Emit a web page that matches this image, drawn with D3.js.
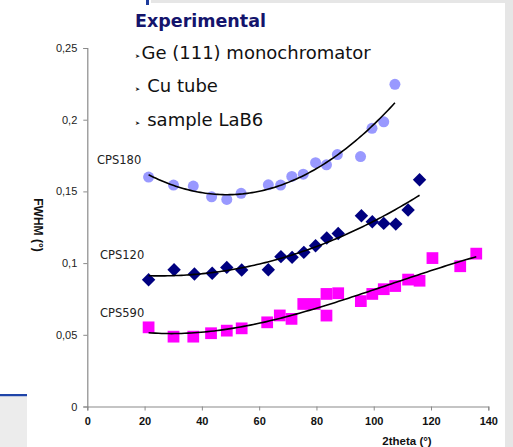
<!DOCTYPE html>
<html><head><meta charset="utf-8">
<script src="https://cdn.jsdelivr.net/npm/d3@7/dist/d3.min.js"></script>
<style>body{margin:0;background:#fff}svg{display:block}</style></head>
<body><svg id="c" width="513" height="447"></svg>
<script>
// ---- data ----
const xTicks = [0, 20, 40, 60, 80, 100, 120, 140];
const yTicks = [0, 0.05, 0.1, 0.15, 0.2, 0.25];
const yTickLabels = ["0", "0,05", "0,1", "0,15", "0,2", "0,25"];

const theta180 = [21.4, 30.1, 37.0, 43.4, 48.7, 53.7, 63.2, 67.5, 71.4, 75.4, 79.7, 83.5, 87.3, 95.4, 99.4, 103.5, 107.4];
const fwhm180  = [0.160, 0.1544, 0.1537, 0.1462, 0.1444, 0.1487, 0.1546, 0.1544, 0.1604, 0.162, 0.170, 0.1685, 0.1757, 0.1743, 0.194, 0.1985, 0.2247];

const theta120 = [21.4, 30.3, 37.4, 43.6, 48.7, 53.9, 63.2, 67.6, 71.5, 75.6, 79.7, 83.6, 87.6, 95.7, 99.5, 103.5, 107.7, 112.0, 116.0];
const fwhm120  = [0.0884, 0.0954, 0.0924, 0.0929, 0.0970, 0.0952, 0.0954, 0.1045, 0.1040, 0.1075, 0.1121, 0.1175, 0.1207, 0.1330, 0.1288, 0.1277, 0.1272, 0.1370, 0.1581];

const theta590 = [21.4, 30.1, 37.0, 43.2, 48.7, 53.9, 62.8, 67.2, 71.3, 75.4, 79.4, 83.5, 83.5, 87.6, 95.5, 99.5, 103.5, 107.5, 112.0, 116.0, 120.5, 130.2, 135.8];
const fwhm590  = [0.0552, 0.0487, 0.0487, 0.0511, 0.0529, 0.0545, 0.0587, 0.0635, 0.0611, 0.0715, 0.0715, 0.0634, 0.0785, 0.0790, 0.0735, 0.0785, 0.0818, 0.0840, 0.0885, 0.0877, 0.1035, 0.0978, 0.1066];

const seriesNames = ["CPS180", "CPS120", "CPS590"];
const fitOrders = [2, 2, 3];
const bulletLines = ["Ge (111) monochromator", " Cu tube", " sample LaB6"];
const titleText = "Experimental";

// ---- helpers ----
function polyfit(xs, ys, deg) {
  const n = deg + 1, s = 100;
  const A = Array.from({length: n}, () => new Array(n + 1).fill(0));
  xs.forEach((xv, k) => {
    const t = xv / s;
    for (let i = 0; i < n; i++) {
      for (let j = 0; j < n; j++) A[i][j] += Math.pow(t, i + j);
      A[i][n] += ys[k] * Math.pow(t, i);
    }
  });
  for (let i = 0; i < n; i++) {
    let p = i;
    for (let r = i + 1; r < n; r++) if (Math.abs(A[r][i]) > Math.abs(A[p][i])) p = r;
    [A[i], A[p]] = [A[p], A[i]];
    for (let r = 0; r < n; r++) {
      if (r === i) continue;
      const f = A[r][i] / A[i][i];
      for (let c = i; c <= n; c++) A[r][c] -= f * A[i][c];
    }
  }
  const coef = A.map((row, i) => row[n] / row[i]);
  return xv => coef.reduce((acc, c, i) => acc + c * Math.pow(xv / s, i), 0);
}

const svg = d3.select("#c");
svg.append("rect").attr("width", 513).attr("height", 447).attr("fill", "#fff");
// frame decorations
svg.append("rect").attr("x", 151).attr("y", 0).attr("width", 362).attr("height", 3).attr("fill", "#e6e6e6");
svg.append("rect").attr("x", 146).attr("y", 0).attr("width", 3).attr("height", 5).attr("fill", "#1e3c9c");
svg.append("rect").attr("x", 505).attr("y", 0).attr("width", 8).attr("height", 447).attr("fill", "#e6e6e6");
svg.append("rect").attr("x", 0).attr("y", 394).attr("width", 27).attr("height", 2.5).attr("fill", "#1e44a8");
svg.append("rect").attr("x", 0).attr("y", 396.5).attr("width", 27).attr("height", 51).attr("fill", "#ececec");

const x = d3.scaleLinear().domain([0, 140]).range([87.3, 488.3]);
const y = d3.scaleLinear().domain([0, 0.25]).range([406.5, 48]);

// axes
const axisColor = "#8a8a8a";
const gy = svg.append("g").attr("transform", `translate(${x(0)},0)`)
  .call(d3.axisLeft(y).tickValues(yTicks).tickSize(4).tickPadding(6)
    .tickFormat((d, i) => yTickLabels[i]));
const gx = svg.append("g").attr("transform", `translate(0,${y(0)})`)
  .call(d3.axisBottom(x).tickValues(xTicks).tickSize(4).tickPadding(7));
[gx, gy].forEach(g => {
  g.select(".domain").attr("stroke", axisColor).attr("stroke-width", 1.2);
  g.selectAll(".tick line").attr("stroke", axisColor);
  g.selectAll("text").attr("font-family", "'Liberation Sans', Arial, sans-serif").attr("fill", "#222");
});
gy.selectAll("text").attr("font-size", 11);
gx.selectAll("text").attr("font-size", 11).attr("font-weight", "bold").attr("fill", "#111");

svg.append("text").attr("x", 407).attr("y", 445).attr("text-anchor", "middle")
  .attr("font-family", "'Liberation Sans', Arial, sans-serif").attr("font-size", 11.5)
  .attr("font-weight", "bold").attr("fill", "#111").text("2theta (°)");
svg.append("text").attr("transform", "translate(34,225) rotate(90)").attr("text-anchor", "middle")
  .attr("font-family", "'Liberation Sans', Arial, sans-serif").attr("font-size", 12)
  .attr("font-weight", "bold").attr("fill", "#111").text("FWHM (°)");

// title + bullet lines
svg.append("text").attr("x", 135).attr("y", 26.5)
  .attr("font-family", "'DejaVu Sans', Verdana, sans-serif").attr("font-size", 17.5)
  .attr("font-weight", "bold").attr("fill", "#14146c").text(titleText);
const bulletY = [59.3, 92, 126];
const bulletX = [141.5, 141.5, 141.5];
bulletLines.forEach((t, i) => {
  svg.append("text").attr("x", 135).attr("y", bulletY[i] - 1)
    .attr("font-family", "'DejaVu Sans', sans-serif").attr("font-size", 6).attr("fill", "#222").text("➤");
  svg.append("text").attr("x", bulletX[i]).attr("y", bulletY[i]).attr("xml:space", "preserve")
    .style("white-space", "pre")
    .attr("font-family", "'DejaVu Sans', Verdana, sans-serif").attr("font-size", 18).attr("fill", "#111").text(t);
});

// series
const series = [
  {xs: theta180, ys: fwhm180, sym: d3.symbolCircle, size: 95, rot: 0, color: "#9999ff"},
  {xs: theta120, ys: fwhm120, sym: d3.symbolSquare, size: 90, rot: 45, color: "#000080"},
  {xs: theta590, ys: fwhm590, sym: d3.symbolSquare, size: 138, rot: 0, color: "#ff00ff"}
];
const labelPos = [[97, 163.5], [100, 259], [100, 316.5]];

series.forEach((s, si) => {
  const pts = s.xs.map((xv, k) => [xv, s.ys[k]]);
  svg.append("g").selectAll("path").data(pts).join("path")
    .attr("d", d3.symbol().type(s.sym).size(s.size))
    .attr("transform", d => `translate(${x(d[0])},${y(d[1])}) rotate(${s.rot})`)
    .attr("fill", s.color);
  const f = polyfit(s.xs, s.ys, fitOrders[si]);
  const x0 = d3.min(s.xs), x1 = d3.max(s.xs);
  const samples = d3.range(0, 101).map(i => x0 + (x1 - x0) * i / 100);
  svg.append("path").datum(samples)
    .attr("d", d3.line().x(d => x(d)).y(d => y(f(d))))
    .attr("fill", "none").attr("stroke", "#000").attr("stroke-width", 1.6);
  svg.append("text").attr("x", labelPos[si][0]).attr("y", labelPos[si][1])
    .attr("font-family", "'DejaVu Sans', Verdana, sans-serif").attr("font-size", 11.5)
    .attr("fill", "#222").text(seriesNames[si]);
});
</script></body></html>
